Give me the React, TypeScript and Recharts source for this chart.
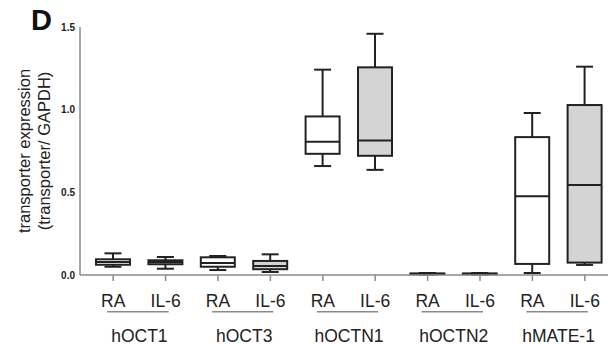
import { ComposedChart, Bar, XAxis, YAxis } from 'recharts'

const groups = ['hOCT1', 'hOCT3', 'hOCTN1', 'hOCTN2', 'hMATE-1']
const conditions = ['RA', 'IL-6']

// one entry per box, in drawing order (RA, IL-6 for each transporter)
const mins = [0.05, 0.038, 0.03, 0.018, 0.659, 0.636, 0.003, 0.003, 0.012, 0.061]
const q1s = [0.062, 0.065, 0.05, 0.035, 0.733, 0.721, 0.005, 0.005, 0.067, 0.075]
const medians = [0.079, 0.079, 0.073, 0.055, 0.806, 0.814, 0.007, 0.007, 0.477, 0.545]
const q3s = [0.095, 0.089, 0.107, 0.085, 0.959, 1.256, 0.009, 0.009, 0.834, 1.028]
const maxs = [0.131, 0.109, 0.115, 0.125, 1.242, 1.459, 0.012, 0.012, 0.98, 1.26]

const yTicks = [0, 0.5, 1.0, 1.5]

const data = mins.map((_, i) => ({
  key: `${groups[Math.floor(i / 2)]}-${conditions[i % 2]}`,
  group: groups[Math.floor(i / 2)],
  cond: conditions[i % 2],
  min: mins[i],
  q1: q1s[i],
  median: medians[i],
  q3: q3s[i],
  max: maxs[i],
  range: [mins[i], maxs[i]],
}))

const FONT = '"Liberation Sans", Arial, sans-serif'
const INK = '#222'
const AXIS = '#8a8a8a'

function BoxShape(props: any) {
  const { x, y, width, height, payload } = props
  const top = Math.min(y, y + height)
  const bottom = Math.max(y, y + height)
  const lo = payload.min
  const hi = payload.max
  const toY = (v: number) => bottom - ((v - lo) / (hi - lo)) * (bottom - top)
  const cx = x + width / 2
  const cap = width / 4
  const yQ1 = toY(payload.q1)
  const yQ3 = toY(payload.q3)
  const yMed = toY(payload.median)
  const fill = payload.cond === 'IL-6' ? '#d4d4d4' : '#fff'
  return (
    <g stroke={INK} strokeWidth={2} fill="none">
      <line x1={cx} x2={cx} y1={top} y2={yQ3} />
      <line x1={cx} x2={cx} y1={yQ1} y2={bottom} />
      <line x1={cx - cap} x2={cx + cap} y1={top} y2={top} />
      <line x1={cx - cap} x2={cx + cap} y1={bottom} y2={bottom} />
      <rect x={x} y={yQ3} width={width} height={Math.max(yQ1 - yQ3, 0.5)} fill={fill} />
      <line x1={x} x2={x + width} y1={yMed} y2={yMed} />
    </g>
  )
}

function XTick(props: any) {
  const { x, y, payload } = props
  const i = payload.index
  const row = data[i]
  const step = 52.4
  return (
    <g fontFamily={FONT}>
      <text x={x} y={y + 23.5} textAnchor="middle" fontSize={17.5} fill={INK}>
        {row.cond}
      </text>
      {i % 2 === 0 && (
        <g>
          <line x1={x - 6} x2={x + step + 3} y1={y + 28.7} y2={y + 28.7} stroke={AXIS} strokeWidth={1.5} />
          <text x={x + step / 2} y={y + 58.5} textAnchor="middle" fontSize={17.5} fill={INK}>
            {row.group}
          </text>
        </g>
      )}
    </g>
  )
}

function YLabel(props: any) {
  const vb = props.viewBox || { y: 27, height: 248 }
  const cy = vb.y + vb.height / 2
  return (
    <g fontFamily={FONT} fontSize={16.5} fill={INK}>
      <text x={29.5} y={cy} textAnchor="middle" transform={`rotate(-90 29.5 ${cy})`}>
        transporter expression
      </text>
      <text x={49.5} y={cy} textAnchor="middle" transform={`rotate(-90 49.5 ${cy})`}>
        (transporter/ GAPDH)
      </text>
    </g>
  )
}

export default function App() {
  return (
    <div style={{ position: 'relative', width: 608, height: 344, overflow: 'hidden', background: '#fff' }}>
      <style>{'body{margin:0;overflow:hidden}'}</style>
      <div
        style={{
          position: 'absolute',
          left: 31,
          top: 6,
          fontFamily: FONT,
          fontWeight: 'bold',
          fontSize: 29,
          lineHeight: '28px',
          color: '#111',
        }}
      >
        D
      </div>
      <ComposedChart
        width={612}
        height={344}
        data={data}
        margin={{ top: 27, right: 1, bottom: 0, left: 0 }}
        barCategoryGap={0}
      >
        <XAxis
          dataKey="key"
          interval={0}
          height={69}
          padding={{ left: 7, right: 0 }}
          axisLine={{ stroke: AXIS, strokeWidth: 1.5 }}
          tickLine={{ stroke: AXIS, strokeWidth: 1.5 }}
          tickSize={6}
          tick={<XTick />}
        />
        <YAxis
          width={80}
          domain={[0, 1.5]}
          ticks={yTicks}
          interval={0}
          axisLine={{ stroke: AXIS, strokeWidth: 1.5 }}
          tickLine={false}
          tickSize={3}
          tickMargin={2}
          tickFormatter={(v: number) => v.toFixed(1)}
          tick={{ fontFamily: FONT, fontSize: 10, fontWeight: 'bold', fill: INK }}
          label={{ content: <YLabel /> }}
        />
        <Bar dataKey="range" barSize={34} shape={<BoxShape />} isAnimationActive={false} />
      </ComposedChart>
    </div>
  )
}
